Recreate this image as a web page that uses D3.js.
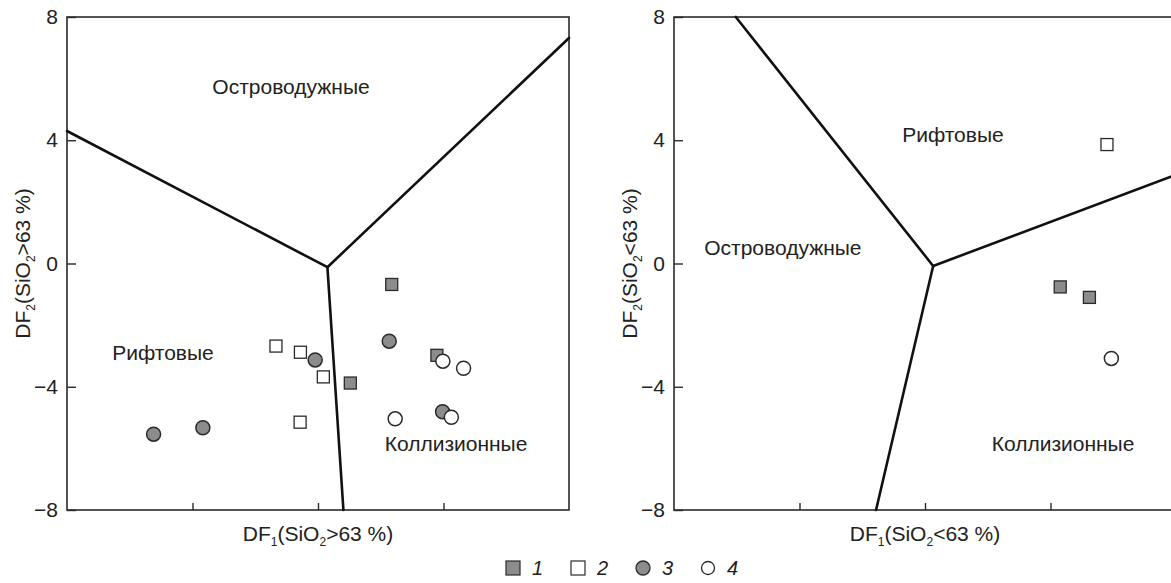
<!DOCTYPE html>
<html>
<head>
<meta charset="utf-8">
<script src="https://cdn.jsdelivr.net/npm/d3@7"></script>
<style>
body { margin: 0; background: #fff; }
text { font-family: "Liberation Sans", Arial, sans-serif; fill: #222; }
</style>
</head>
<body>
<svg width="1171" height="583"></svg>
<script>
// discriminant diagram, two panels: SiO2 > 63 % and SiO2 < 63 %
var yTicks = [-8, -4, 0, 4, 8];
var xTicks = [-4, 0, 4];
var legendKeys = ["1", "2", "3", "4"];

// field boundaries: junction point + three ends
var leftJunction = [0.30, -0.12];
var leftEnds = [[-8, 4.30], [8, 7.32], [0.81, -8]];
var rightJunction = [0.26, -0.08];
var rightEnds = [[-6.03, 8], [8, 2.88], [-1.56, -8]];

// field names
var fieldNames = ["Островодужные", "Рифтовые", "Коллизионные"];
var leftNameAt = [[-0.86, 5.73], [-4.94, -2.9], [4.40, -5.86]];
var rightNameAt = [[-4.53, 0.50], [0.89, 4.17], [4.40, -5.86]];

// samples, panel 1 (SiO2 > 63 %)
var left1 = [[2.35, -0.68], [1.03, -3.88], [3.79, -2.98]];
var left2 = [[-1.34, -2.68], [-0.56, -2.88], [0.17, -3.68], [-0.57, -5.15]];
var left3 = [[-5.24, -5.54], [-3.67, -5.33], [-0.09, -3.13], [2.27, -2.52], [3.97, -4.81]];
var left4 = [[3.98, -3.17], [4.64, -3.40], [2.46, -5.04], [4.25, -4.99]];

// samples, panel 2 (SiO2 < 63 %)
var right1 = [[4.31, -0.76], [5.24, -1.10]];
var right2 = [[5.80, 3.86]];
var right3 = [];
var right4 = [[5.94, -3.08]];

var svg = d3.select("svg");
var panelW = 502, plotTop = 17, plotBottom = 510;
var gray = "#8c8c8c", ink = "#2a2a2a";

function minus(d) { return d < 0 ? "\u2212" + Math.abs(d) : "" + d; }

function subTitle(g, parts) {
  // parts: [text, sub, text, sub, text]
  parts.forEach(function(p, i) {
    var isSub = i % 2 == 1;
    g.append("tspan")
      .attr("font-size", isSub ? 12 : 21)
      .attr("dy", isSub ? 5 : (i > 0 ? -5 : 0))
      .text(p);
  });
}

function drawPanel(x0, cmp, junction, ends, nameAt, groups) {
  var x = d3.scaleLinear().domain([-8, 8]).range([x0, x0 + panelW]);
  var y = d3.scaleLinear().domain([-8, 8]).range([plotBottom, plotTop]);
  var g = svg.append("g");

  g.append("g")
    .attr("transform", "translate(" + x0 + ",0)")
    .call(d3.axisLeft(y).tickValues(yTicks).tickSize(-9).tickPadding(9).tickFormat(minus))
    .call(function(a) {
      a.select(".domain").remove();
      a.selectAll("line").attr("stroke", ink).attr("stroke-width", 1.4);
      a.selectAll("text").attr("font-size", 21).attr("fill", "#222");
    });
  g.selectAll(".tick text").attr("font-family", null);

  g.append("g")
    .attr("transform", "translate(0," + plotBottom + ")")
    .call(d3.axisBottom(x).tickValues(xTicks).tickSize(-7).tickFormat(""))
    .call(function(a) {
      a.select(".domain").remove();
      a.selectAll("line").attr("stroke", ink).attr("stroke-width", 1.4);
    });

  g.append("rect")
    .attr("x", x(-8)).attr("y", y(8))
    .attr("width", x(8) - x(-8)).attr("height", y(-8) - y(8))
    .attr("fill", "none").attr("stroke", ink).attr("stroke-width", 1.6);

  g.selectAll(".bound")
    .data(ends)
    .enter().append("line")
    .attr("x1", x(junction[0])).attr("y1", y(junction[1]))
    .attr("x2", function(d) { return x(d[0]); })
    .attr("y2", function(d) { return y(d[1]); })
    .attr("stroke", "#111").attr("stroke-width", 2.6)
    .attr("stroke-linecap", "round");

  g.selectAll(".field")
    .data(nameAt)
    .enter().append("text")
    .attr("x", function(d) { return x(d[0]); })
    .attr("y", function(d) { return y(d[1]); })
    .attr("dy", "0.35em")
    .attr("text-anchor", "middle")
    .attr("font-size", 21)
    .text(function(d, i) { return fieldNames[i]; });

  // axis titles
  var xt = g.append("text")
    .attr("x", (x(-8) + x(8)) / 2).attr("y", 541)
    .attr("text-anchor", "middle");
  subTitle(xt, ["DF", "1", "(SiO", "2", cmp + "63 %)"]);

  var yt = g.append("text")
    .attr("transform", "translate(" + (x0 - 37) + "," + ((plotTop + plotBottom) / 2) + ") rotate(-90)")
    .attr("text-anchor", "middle");
  subTitle(yt, ["DF", "2", "(SiO", "2", cmp + "63 %)"]);

  drawSymbols(g, groups[0], x, y, "square", gray);
  drawSymbols(g, groups[1], x, y, "square", "#fff");
  drawSymbols(g, groups[2], x, y, "circle", gray);
  drawSymbols(g, groups[3], x, y, "circle", "#fff");
}

function drawSymbols(g, pts, x, y, shape, fill) {
  if (shape == "square") {
    g.append("g").selectAll("rect")
      .data(pts)
      .enter().append("rect")
      .attr("x", function(d) { return x(d[0]) - 6; })
      .attr("y", function(d) { return y(d[1]) - 6; })
      .attr("width", 12).attr("height", 12)
      .attr("fill", fill).attr("stroke", ink).attr("stroke-width", 1.3);
  } else {
    g.append("g").selectAll("circle")
      .data(pts)
      .enter().append("circle")
      .attr("cx", function(d) { return x(d[0]); })
      .attr("cy", function(d) { return y(d[1]); })
      .attr("r", 7)
      .attr("fill", fill).attr("stroke", ink).attr("stroke-width", 1.5);
  }
}

drawPanel(67, ">", leftJunction, leftEnds, leftNameAt, [left1, left2, left3, left4]);
drawPanel(674, "<", rightJunction, rightEnds, rightNameAt, [right1, right2, right3, right4]);

// legend
var lx = d3.scalePoint().domain(legendKeys).range([506, 701]);
var leg = svg.append("g").attr("transform", "translate(0,568)");
legendKeys.forEach(function(k, i) {
  var x0 = lx(k);
  if (i < 2) {
    leg.append("rect").attr("x", x0).attr("y", -7).attr("width", 14).attr("height", 14)
      .attr("fill", i == 0 ? gray : "#fff").attr("stroke", ink).attr("stroke-width", 1.2);
  } else {
    leg.append("circle").attr("cx", x0 + 7).attr("cy", 0).attr("r", i == 2 ? 7 : 6.5)
      .attr("fill", i == 2 ? gray : "#fff").attr("stroke", ink).attr("stroke-width", 1.3);
  }
  leg.append("text").attr("x", x0 + 26).attr("dy", "0.35em")
    .attr("font-size", 20).attr("font-style", "italic").text(k);
});
</script>
</body>
</html>
